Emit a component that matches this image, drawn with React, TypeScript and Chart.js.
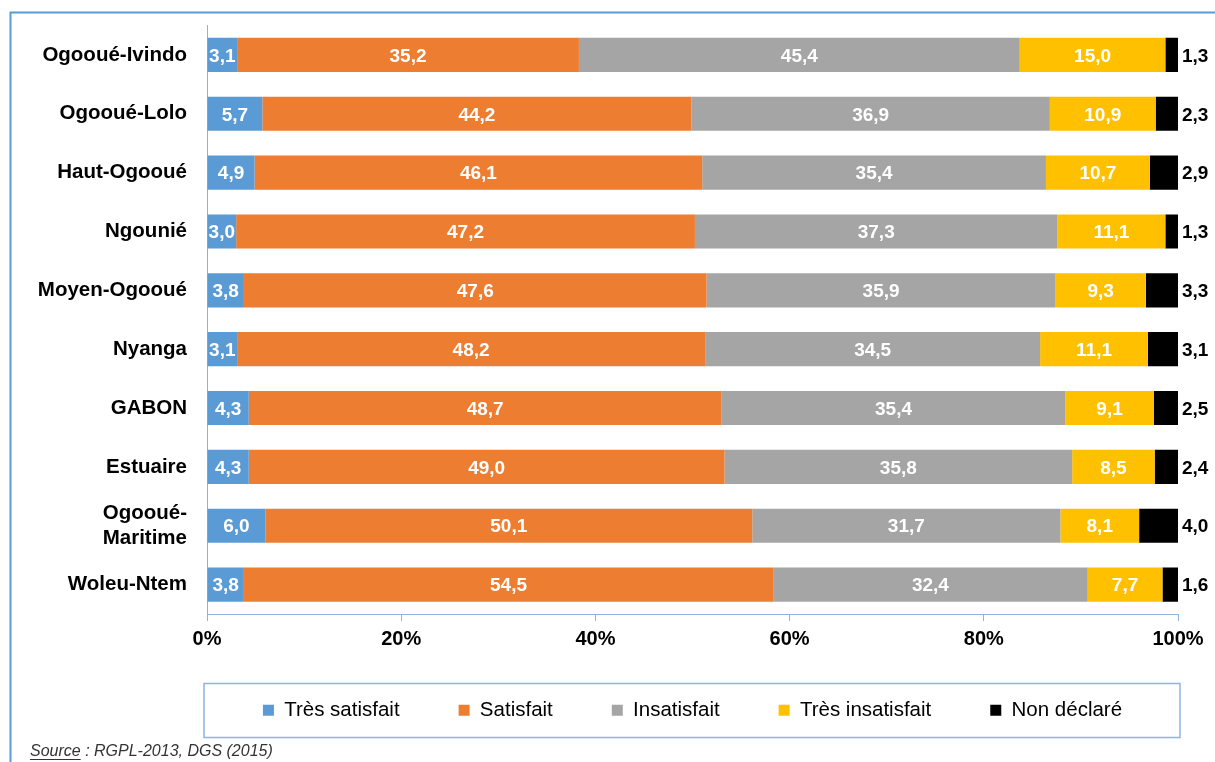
import React, { useEffect, useRef } from "react";
import { Chart, registerables } from "chart.js";

Chart.register(...registerables);

const FONT = '"Liberation Sans", Arial, Helvetica, sans-serif';

const categories: (string | string[])[] = [
  "Ogooué-Ivindo",
  "Ogooué-Lolo",
  "Haut-Ogooué",
  "Ngounié",
  "Moyen-Ogooué",
  "Nyanga",
  "GABON",
  "Estuaire",
  ["Ogooué-", "Maritime"],
  "Woleu-Ntem",
];
const seriesNames = ["Très satisfait", "Satisfait", "Insatisfait", "Très insatisfait", "Non déclaré"];
const tresSatisfait = [3.1, 5.7, 4.9, 3.0, 3.8, 3.1, 4.3, 4.3, 6.0, 3.8];
const satisfait = [35.2, 44.2, 46.1, 47.2, 47.6, 48.2, 48.7, 49.0, 50.1, 54.5];
const insatisfait = [45.4, 36.9, 35.4, 37.3, 35.9, 34.5, 35.4, 35.8, 31.7, 32.4];
const tresInsatisfait = [15.0, 10.9, 10.7, 11.1, 9.3, 11.1, 9.1, 8.5, 8.1, 7.7];
const nonDeclare = [1.3, 2.3, 2.9, 1.3, 3.3, 3.1, 2.5, 2.4, 4.0, 1.6];
const seriesColors = ["#5B9BD5", "#ED7D31", "#A5A5A5", "#FFC000", "#000000"];
const xTickStep = 20;
const sourceLabel = "Source";
const sourceRest = " : RGPL-2013, DGS (2015)";

const AXIS_COLOR = "#8FB1DA";

export default function App() {
  const ref = useRef<HTMLCanvasElement | null>(null);

  useEffect(() => {
    document.body.style.margin = "0";
    const canvas = ref.current;
    if (!canvas) return;

    const raw = [tresSatisfait, satisfait, insatisfait, tresInsatisfait, nonDeclare];
    const totals = categories.map((_, i) => raw.reduce((s, arr) => s + arr[i], 0));

    const datasets = raw.map((arr, di) => ({
      label: seriesNames[di],
      data: arr.map((v, i) => (v / totals[i]) * 100),
      backgroundColor: seriesColors[di],
      borderWidth: 0,
      categoryPercentage: 1,
      barPercentage: 0.58,
    }));

    const labelsPlugin = {
      id: "segLabels",
      afterDatasetsDraw(chart: any) {
        const ctx = chart.ctx;
        chart.data.datasets.forEach((_: any, di: number) => {
          const meta = chart.getDatasetMeta(di);
          meta.data.forEach((el: any, i: number) => {
            const p = el.getProps(["x", "y", "base"], true);
            const txt = raw[di][i].toFixed(1).replace(".", ",");
            ctx.save();
            ctx.font = `bold 19px ${FONT}`;
            ctx.textBaseline = "middle";
            if (di === 4) {
              ctx.fillStyle = "#000";
              ctx.textAlign = "left";
              ctx.fillText(txt, p.x + 4, p.y + 1.5);
            } else {
              ctx.fillStyle = "#FFFFFF";
              ctx.textAlign = "center";
              ctx.fillText(txt, (p.x + p.base) / 2, p.y + 1.5);
            }
            ctx.restore();
          });
        });
      },
    };

    const framePlugin = {
      id: "frame",
      afterLayout(chart: any) {
        const lg = chart.legend;
        if (lg) {
          const h = lg.height;
          const cx = (chart.chartArea.left + chart.chartArea.right) / 2;
          lg.left = cx - 580;
          lg.right = cx + 580;
          lg.top = 641;
          lg.bottom = 641 + h;
        }
      },
      beforeDraw(chart: any) {
        const ctx = chart.ctx;
        ctx.save();
        ctx.fillStyle = "#FFFFFF";
        ctx.fillRect(0, 0, chart.width, chart.height);
        ctx.strokeStyle = "#5B9BD5";
        ctx.lineWidth = 2;
        ctx.beginPath();
        ctx.moveTo(10.5, chart.height + 5);
        ctx.lineTo(10.5, 12.5);
        ctx.lineTo(chart.width + 5, 12.5);
        ctx.stroke();
        ctx.restore();
      },
      afterDraw(chart: any) {
        const ctx = chart.ctx;
        const ca = chart.chartArea;
        ctx.save();
        ctx.strokeStyle = "#8DB4E2";
        ctx.lineWidth = 1.5;
        ctx.strokeRect(ca.left - 3, 683.5, ca.right - ca.left + 5, 54);
        ctx.font = `italic 16px ${FONT}`;
        ctx.fillStyle = "#333333";
        ctx.textBaseline = "middle";
        ctx.textAlign = "left";
        const x0 = 30;
        const y0 = 752;
        ctx.fillText(sourceLabel, x0, y0);
        const w = ctx.measureText(sourceLabel).width;
        ctx.fillText(sourceRest, x0 + w, y0);
        ctx.strokeStyle = "#333333";
        ctx.lineWidth = 1;
        ctx.beginPath();
        ctx.moveTo(x0, y0 + 7.5);
        ctx.lineTo(x0 + w, y0 + 7.5);
        ctx.stroke();
        ctx.restore();
      },
    };

    const chart = new Chart(canvas, {
      type: "bar",
      data: { labels: categories as any, datasets },
      options: {
        indexAxis: "y",
        animation: false,
        responsive: false,
        devicePixelRatio: 1,
        layout: { padding: { top: 25.5, right: 37, bottom: 18.5, left: 0 } },
        scales: {
          x: {
            stacked: true,
            min: 0,
            max: 100,
            ticks: {
              stepSize: xTickStep,
              padding: 6.5,
              color: "#000",
              font: { family: FONT, size: 20, weight: "bold" },
              callback: (v: any) => `${v}%`,
            },
            grid: {
              display: true,
              drawOnChartArea: false,
              drawTicks: true,
              tickLength: 7,
              color: AXIS_COLOR,
              lineWidth: 1,
            },
            border: { display: true, color: AXIS_COLOR, width: 1 },
            afterFit: (s: any) => {
              s.height = 40;
            },
          },
          y: {
            stacked: true,
            ticks: {
              padding: 20,
              color: "#000",
              font: { family: FONT, size: 20.5, weight: "bold" },
            },
            grid: { display: false, drawTicks: false },
            border: { display: true, color: AXIS_COLOR, width: 1 },
            afterFit: (s: any) => {
              s.width = 207;
              s.paddingTop = 0;
              s.paddingBottom = 0;
            },
          },
        },
        plugins: {
          legend: {
            position: "bottom",
            labels: {
              boxWidth: 11,
              boxHeight: 11,
              padding: 59,
              color: "#000",
              font: { family: FONT, size: 20.5 },
            },
          },
          tooltip: { enabled: false },
        },
      } as any,
      plugins: [labelsPlugin, framePlugin],
    });

    return () => chart.destroy();
  }, []);

  return (
    <div style={{ width: 1215, height: 762 }}>
      <canvas ref={ref} width={1215} height={762} style={{ display: "block" }} />
    </div>
  );
}
